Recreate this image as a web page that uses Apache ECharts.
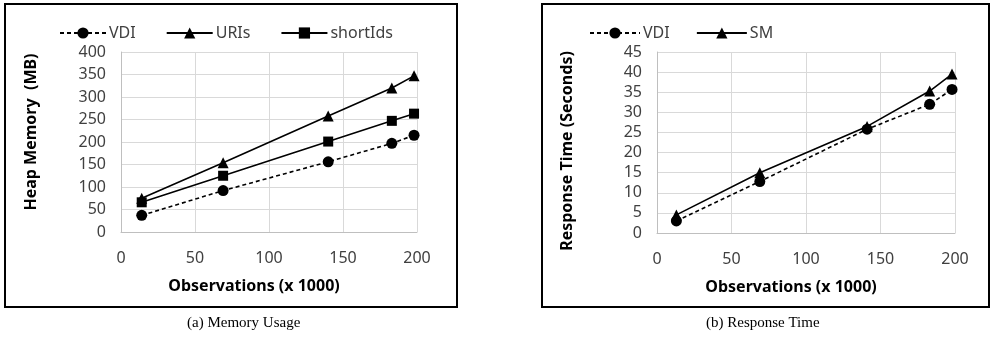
<!DOCTYPE html>
<html>
<head>
<meta charset="utf-8">
<script src="https://cdn.jsdelivr.net/npm/echarts@6/dist/echarts.min.js"></script>
<style>
  html, body { margin: 0; padding: 0; background: #fff; }
  #main { width: 991px; height: 346px; }
</style>
</head>
<body>
<div id="main"></div>
<script>
// (a) memory usage
var memX = [14, 69, 140, 183, 198];
var memVDI = [37, 92, 156, 197, 215];
var memURIs = [75, 154, 258, 320, 347];
var memShortIds = [66, 125, 201, 247, 263];
// (b) response time
var rtX = [13, 69, 141, 183, 198];
var rtVDI = [3, 12.8, 25.8, 32, 35.7];
var rtSM = [4.5, 15, 26.5, 35.3, 39.5];

var xTicks = [0, 50, 100, 150, 200];

function pairs(xs, ys) {
    return xs.map(function (x, i) { return [x, ys[i]]; });
}

var font = '"Noto Sans", sans-serif';
var axisLine = { show: true, lineStyle: { color: '#bfbfbf', width: 1 } };
var split = { show: true, lineStyle: { color: '#d9d9d9', width: 1 } };

function xAxisOpt(gridIndex, pad) {
    return {
        type: 'value', gridIndex: gridIndex,
        min: xTicks[0], max: xTicks[xTicks.length - 1], interval: 50,
        axisLine: axisLine, axisTick: { show: false }, splitLine: split,
        axisLabel: { color: '#404040', fontSize: 16, fontFamily: font, margin: 18 },
        name: 'Observations (x 1000)', nameLocation: 'middle', nameGap: 46,
        nameTextStyle: { color: '#000', fontWeight: 'bold', fontSize: 16, fontFamily: font, padding: pad }
    };
}

function yAxisOpt(gridIndex, name, max, interval, pad) {
    return {
        type: 'value', gridIndex: gridIndex, min: 0, max: max, interval: interval,
        axisLine: axisLine, axisTick: { show: false }, splitLine: split,
        axisLabel: { color: '#404040', fontSize: 16, fontFamily: font, margin: 15 },
        name: name, nameLocation: 'middle', nameGap: 82, nameRotate: 90,
        nameTextStyle: { color: '#000', fontWeight: 'bold', fontSize: 16, fontFamily: font, padding: pad }
    };
}

function lineSeries(name, xi, symbol, size, dashed, data) {
    return {
        name: name, type: 'line', xAxisIndex: xi, yAxisIndex: xi,
        symbol: symbol, symbolSize: size,
        lineStyle: { color: '#000', width: 1.6, type: dashed ? [4, 3] : 'solid' },
        itemStyle: { color: '#000' },
        data: data, animation: false
    };
}

var option = {
    backgroundColor: '#fff',
    animation: false,
    grid: [
        { left: 121, top: 52, width: 296, height: 180 },
        { left: 657, top: 52, width: 298, height: 181 }
    ],
    legend: [
        {
            data: ['VDI', 'URIs', 'shortIds'], left: 54, top: 20,
            itemWidth: 46, itemHeight: 14, itemGap: 30,
            textStyle: { color: '#404040', fontSize: 16, fontFamily: font, padding: [0, 0, 0, -2] }
        },
        {
            data: ['VDI ', 'SM'], left: 584, top: 20,
            itemWidth: 50, itemHeight: 14, itemGap: 22,
            textStyle: { color: '#404040', fontSize: 16, fontFamily: font, padding: [0, 0, 0, -2] }
        }
    ],
    xAxis: [xAxisOpt(0, [0, 30, 0, 0]), xAxisOpt(1, [0, 30, 0, 0])],
    yAxis: [
        yAxisOpt(0, 'Heap Memory  (MB)', 400, 50, [0, 0, 0, 20]),
        yAxisOpt(1, 'Response Time (Seconds)', 45, 5, [0, 17, 0, 0])
    ],
    series: [
        lineSeries('VDI', 0, 'circle', 11, true, pairs(memX, memVDI)),
        lineSeries('URIs', 0, 'triangle', 11, false, pairs(memX, memURIs)),
        lineSeries('shortIds', 0, 'rect', 10, false, pairs(memX, memShortIds)),
        lineSeries('VDI ', 1, 'circle', 11, true, pairs(rtX, rtVDI)),
        lineSeries('SM', 1, 'triangle', 11, false, pairs(rtX, rtSM))
    ],
    graphic: [
        { type: 'rect', shape: { x: 5, y: 4, width: 452, height: 303 },
          style: { fill: 'none', stroke: '#000', lineWidth: 2 }, silent: true },
        { type: 'rect', shape: { x: 542, y: 4, width: 447, height: 303 },
          style: { fill: 'none', stroke: '#000', lineWidth: 2 }, silent: true },
        { type: 'text', left: 187, top: 316,
          style: { text: '(a) Memory Usage', fill: '#000', font: '15px "Liberation Serif", serif' } },
        { type: 'text', left: 706, top: 316,
          style: { text: '(b) Response Time', fill: '#000', font: '15px "Liberation Serif", serif' } }
    ]
};

var myChart = echarts.init(document.getElementById('main'));
myChart.setOption(option);
window.addEventListener("resize", function () {
    myChart.resize();
});
</script>
</body>
</html>
